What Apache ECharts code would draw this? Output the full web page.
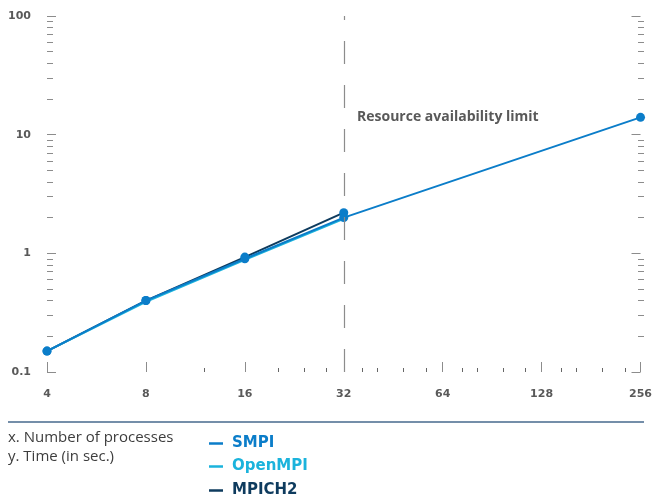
<!DOCTYPE html>
<html>
<head>
<meta charset="utf-8">
<script src="https://cdn.jsdelivr.net/npm/echarts@6/dist/echarts.min.js"></script>
<style>
  html, body { margin: 0; padding: 0; background: #fff; }
  #chart { width: 655px; height: 497px; }
</style>
</head>
<body>
<div id="chart"></div>
<script>
// Number of processes (log2 x axis)
const processes = [4, 8, 16, 32, 256];
const xMajorTicks = [4, 8, 16, 32, 64, 128, 256];
const xMinorTicks = [12, 20, 24, 28, 36, 40, 48, 56, 72, 80, 96, 112, 144, 160, 192, 224];

// Time in seconds (log10 y axis)
const yMajorTicks = [0.1, 1, 10, 100];
const yMinorTicks = [0.2, 0.3, 0.4, 0.5, 0.6, 0.7, 0.8, 0.9,
                     2, 3, 4, 5, 6, 7, 8, 9,
                     20, 30, 40, 50, 60, 70, 80, 90];

const seriesNames = ['SMPI', 'OpenMPI', 'MPICH2'];
const smpi    = [0.15, 0.40, 0.90, 2.0, 14];
const openmpi = [0.15, 0.39, 0.88, 1.95];
const mpich2  = [0.15, 0.40, 0.93, 2.2];

const resourceLimit = 32;
const limitText = 'Resource availability limit';

const colors = { SMPI: '#0b7dc9', OpenMPI: '#1bb3dc', MPICH2: '#0e3b5e' };
const labelGray = '#595959';
const tickGray = '#8c8c8c';
const BOLD_FONT = '"DejaVu Sans", sans-serif';
const TEXT_FONT = '"Open Sans", sans-serif';

const pairs = (vals) => vals.map((v, i) => [processes[i], v]);

const gridRect = { left: 47, right: 11, top: 16, bottom: 125 };

function xAxisBase(extra) {
  return Object.assign({
    type: 'log', logBase: 2, min: 4, max: 256, position: 'bottom',
    axisLine: { show: false }, splitLine: { show: false }
  }, extra);
}
function yAxisBase(extra) {
  return Object.assign({
    type: 'log', logBase: 10, min: 0.1, max: 100,
    axisLine: { show: false }, splitLine: { show: false }
  }, extra);
}

// One single-entry legend per series, stacked below the separator rule
const legendTops = [431, 454, 478];
const legends = seriesNames.map((name, i) => ({
  orient: 'vertical',
  left: 204, top: legendTops[i],
  itemWidth: 14, itemHeight: 2.5,
  icon: 'rect',
  selectedMode: false,
  textStyle: { fontFamily: BOLD_FONT, fontWeight: 'bold', fontSize: 15, padding: [0, 0, 12, 4] },
  data: [{ name, itemStyle: { color: colors[name] }, textStyle: { color: colors[name] } }]
}));

const chart = echarts.init(document.getElementById('chart'), null, { renderer: 'canvas' });

chart.setOption({
  animation: false,
  backgroundColor: '#ffffff',
  grid: [
    Object.assign({}, gridRect),
    Object.assign({}, gridRect)
  ],
  xAxis: [
    xAxisBase({
      gridIndex: 0,
      axisTick: { inside: true, length: 10, lineStyle: { color: tickGray, width: 1 }, customValues: xMajorTicks },
      axisLabel: {
        customValues: xMajorTicks, margin: 17,
        color: labelGray, fontWeight: 'bold', fontSize: 11, fontFamily: BOLD_FONT,
        formatter: (v) => String(Math.round(v))
      }
    }),
    xAxisBase({
      gridIndex: 1,
      axisTick: { inside: true, length: 4, lineStyle: { color: '#666', width: 1 }, customValues: xMinorTicks },
      axisLabel: { show: false }
    })
  ],
  yAxis: [
    yAxisBase({
      gridIndex: 0, position: 'left',
      axisTick: { inside: true, length: 9, lineStyle: { color: tickGray, width: 1 }, customValues: yMajorTicks },
      axisLabel: {
        customValues: yMajorTicks, margin: 16,
        color: labelGray, fontWeight: 'bold', fontSize: 11, fontFamily: BOLD_FONT,
        formatter: (v) => (v < 1 ? v.toFixed(1) : String(Math.round(v)))
      }
    }),
    yAxisBase({
      gridIndex: 0, position: 'right',
      axisTick: { inside: true, length: 9, lineStyle: { color: tickGray, width: 1 }, customValues: yMajorTicks },
      axisLabel: { show: false }
    }),
    yAxisBase({
      gridIndex: 1, position: 'left',
      axisTick: { inside: true, length: 6, lineStyle: { color: tickGray, width: 1 }, customValues: yMinorTicks },
      axisLabel: { show: false }
    }),
    yAxisBase({
      gridIndex: 1, position: 'right',
      axisTick: { inside: true, length: 6, lineStyle: { color: tickGray, width: 1 }, customValues: yMinorTicks },
      axisLabel: { show: false }
    })
  ],
  legend: legends,
  graphic: [
    {
      type: 'line', silent: true,
      shape: { x1: 8, y1: 422, x2: 644, y2: 422 },
      style: { stroke: '#46698c', lineWidth: 1.5 }
    },
    {
      type: 'text', left: 8, top: 430, silent: true,
      style: { text: 'x. Number of processes', font: '15px ' + TEXT_FONT, fill: '#3d3d3d' }
    },
    {
      type: 'text', left: 8, top: 449, silent: true,
      style: { text: 'y. Time (in sec.)', font: '15px ' + TEXT_FONT, fill: '#3d3d3d' }
    },
    {
      type: 'text', left: 357, top: 110, silent: true,
      style: { text: limitText, font: 'bold 14px ' + TEXT_FONT, fill: labelGray }
    }
  ],
  series: [
    {
      name: 'MPICH2', type: 'line', xAxisIndex: 0, yAxisIndex: 0,
      data: pairs(mpich2),
      symbol: 'circle', symbolSize: 9, showSymbol: true,
      itemStyle: { color: colors.SMPI },
      lineStyle: { color: colors.MPICH2, width: 2 },
      z: 2
    },
    {
      name: 'OpenMPI', type: 'line', xAxisIndex: 0, yAxisIndex: 0,
      data: pairs(openmpi),
      symbol: 'none',
      itemStyle: { color: colors.OpenMPI },
      lineStyle: { color: colors.OpenMPI, width: 2 },
      z: 3
    },
    {
      name: 'SMPI', type: 'line', xAxisIndex: 0, yAxisIndex: 0,
      data: pairs(smpi),
      symbol: 'circle', symbolSize: 9, showSymbol: true,
      itemStyle: { color: colors.SMPI },
      lineStyle: { color: colors.SMPI, width: 2 },
      z: 4,
      markLine: {
        silent: true, symbol: 'none',
        lineStyle: { color: '#8c8c8c', type: [23, 21], width: 1.2 },
        label: { show: false },
        data: [{ xAxis: resourceLimit }]
      }
    }
  ]
});
</script>
</body>
</html>
